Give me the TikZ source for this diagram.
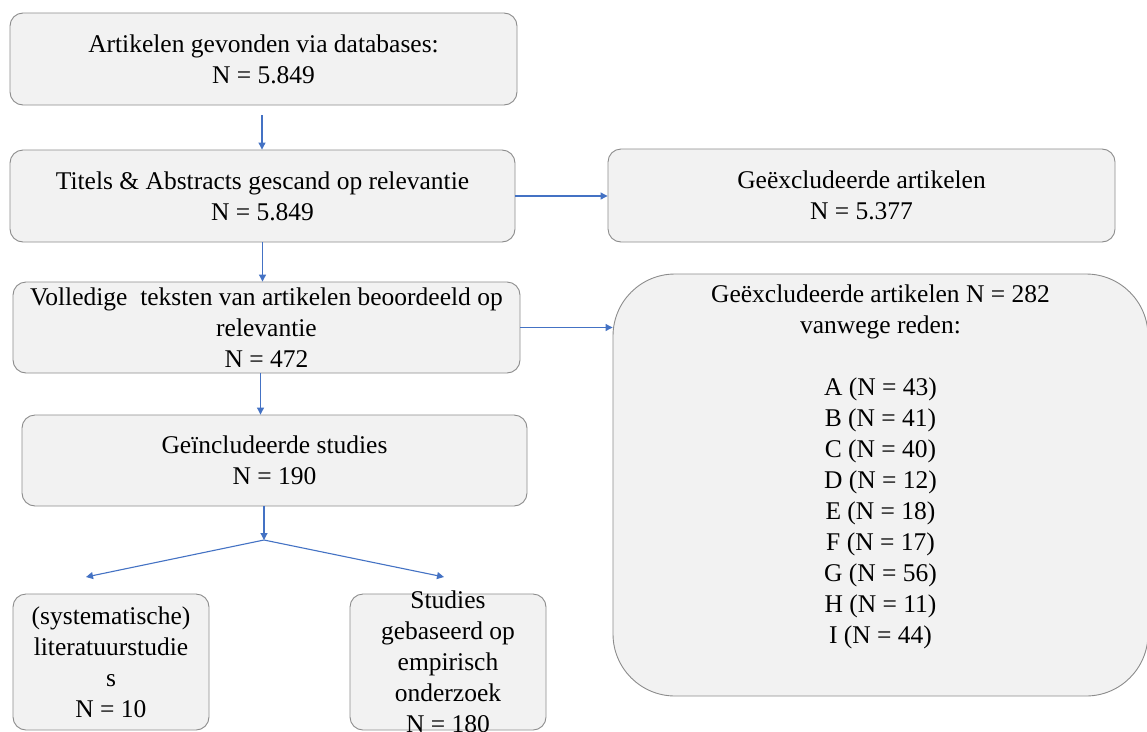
\documentclass[tikz,border=0pt]{standalone}
\usepackage{fontspec}
\setmainfont{Liberation Serif}
\usetikzlibrary{arrows.meta}
\definecolor{arr}{HTML}{4472C4}
\definecolor{boxfill}{HTML}{F2F2F2}
\definecolor{boxline}{HTML}{8C8C8C}
\begin{document}
\begin{tikzpicture}[x=1pt,y=-1pt,
  box/.style={draw=boxline, fill=boxfill, line width=0.9pt, rounded corners=13pt, inner sep=0pt},
  txt/.style={align=center, font=\fontsize{25.5}{31}\selectfont, inner sep=0pt},
  conn/.style={draw=arr, line width=1.1pt, -{Triangle[width=7pt,length=7pt]}}]
\useasboundingbox (0,0) rectangle (1147,731);
\fill[white] (0,0) rectangle (1147,731);
\clip (0,0) rectangle (1147,731);

% boxes
\node[box, minimum width=507pt, minimum height=92pt] (b1) at (263.5,59) {};
\node[box, minimum width=505pt, minimum height=92pt] (b2) at (262.5,196) {};
\node[box, minimum width=507pt, minimum height=93pt] (b3) at (861.5,195.5) {};
\node[box, minimum width=507pt, minimum height=91pt] (b4) at (266.5,327.5) {};
\node[box, rounded corners=62pt, minimum width=535pt, minimum height=422pt] (big) at (880.5,485) {};
\node[box, minimum width=505pt, minimum height=91pt] (b6) at (274.5,460.5) {};
\node[box, minimum width=196pt, minimum height=136pt] (b7) at (111,662) {};
\node[box, minimum width=196pt, minimum height=136pt] (b8) at (448,662) {};

% texts
\node[txt] (t1) at (b1.center) {Artikelen gevonden via databases:\\N = 5.849};
\node[txt] (t2) at (b2.center) {Titels \& Abstracts gescand op relevantie\\N = 5.849};
\node[txt] (t3) at (b3.center) {Geëxcludeerde artikelen\\N = 5.377};
\node[txt] (t4) at (b4.center) {Volledige\ \ teksten van artikelen beoordeeld op\\relevantie\\N = 472};
\node[txt] (t5) at ([yshift=18.5pt]big.center) {Geëxcludeerde artikelen N = 282\\vanwege reden:\\[31pt]A (N = 43)\\B (N = 41)\\C (N = 40)\\D (N = 12)\\E (N = 18)\\F (N = 17)\\G (N = 56)\\H (N = 11)\\I (N = 44)};
\node[txt] (t6) at (b6.center) {Geïncludeerde studies\\N = 190};
\node[txt] (t7) at (b7.center) {(systematische)\\literatuurstudie\\s\\N = 10};
\node[txt] (t8) at (b8.center) {Studies\\gebaseerd op\\empirisch\\onderzoek\\N = 180};

% connectors
\coordinate (a1s) at (262,115);
\draw[conn] (a1s) -- (a1s |- b2.north);
\draw[conn] (b2.east) -- (b2.east -| b3.west);
\draw[conn] (b2.south) -- (b2.south |- b4.north);
\draw[conn] (b4.east) -- (b4.east -| big.west);
\draw[conn] ([xshift=-6pt]b4.south) -- ([xshift=-6pt]b4.south |- b6.north);
\coordinate (j) at (264,540);
\coordinate (l) at (86,577);
\coordinate (r) at (444,577);
\draw[conn] (b6.south -| j) -- (j);
\draw[conn] (j) -- (l);
\draw[conn] (j) -- (r);
\end{tikzpicture}
\end{document}
